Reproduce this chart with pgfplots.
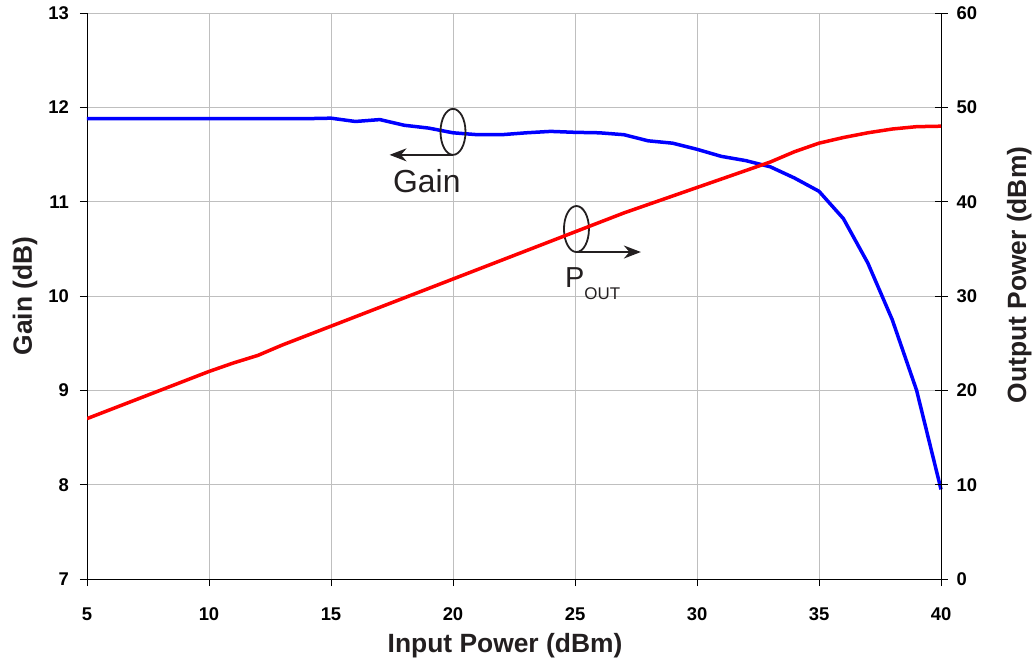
\documentclass[border=0pt]{standalone}
\usepackage{fontspec}
\setmainfont{Liberation Sans}
\usepackage{pgfplots}
\pgfplotsset{compat=1.18}
\usetikzlibrary{arrows.meta}
\definecolor{ink}{HTML}{231F20}

% gain (dB) vs input power (dBm)
\pgfplotstableread{
pin gain
5 11.88
6 11.88
7 11.88
8 11.88
9 11.88
10 11.88
11 11.88
12 11.88
13 11.88
14 11.88
15 11.885
16 11.85
17 11.87
18 11.81
19 11.78
20 11.73
21 11.71
22 11.71
23 11.73
24 11.745
25 11.735
26 11.73
27 11.71
28 11.645
29 11.62
30 11.555
31 11.48
32 11.435
33 11.37
34 11.25
35 11.11
36 10.82
37 10.35
38 9.75
39 9.0
40 7.95
}\gaintable

% output power (dBm) vs input power (dBm)
\pgfplotstableread{
pin pout
5 17.0
6 18.0
7 19.0
8 20.0
9 21.0
10 22.0
11 22.9
12 23.7
13 24.8
14 25.8
15 26.8
16 27.8
17 28.8
18 29.8
19 30.8
20 31.8
21 32.8
22 33.8
23 34.8
24 35.8
25 36.8
26 37.8
27 38.8
28 39.7
29 40.6
30 41.5
31 42.4
32 43.3
33 44.2
34 45.3
35 46.2
36 46.8
37 47.3
38 47.7
39 47.95
40 48.0
}\pouttable

\begin{document}
\begin{tikzpicture}
\pgfplotsset{
  every tick label/.append style={font=\fontsize{18.5}{18.5}\selectfont\bfseries},
  every axis label/.append style={font=\fontsize{26.5}{26.5}\selectfont\bfseries, text=ink},
}
\begin{axis}[
  scale only axis, width=854bp, height=566bp,
  xmin=5, xmax=40, ymin=7, ymax=13,
  xtick={5,10,...,40}, ytick={7,8,...,13},
  axis x line=bottom, axis y line=left,
  axis line style={-, black, line width=0.9bp},
  tick style={black, line width=0.9bp},
  tick align=outside, major tick length=7bp,
  grid=major, grid style={gray!50, line width=0.7bp},
  /pgf/number format/assume math mode=true,
  yticklabel style={xshift=-7.6bp},
  xticklabel style={yshift=-18bp},
  xlabel={Input Power (dBm)},
  xlabel style={at={(axis description cs:0.5,0)}, anchor=base, yshift=-73bp, xshift=-9bp},
  ylabel={Gain (dB)},
  % the label is turned by 90 degrees: its own y points left
  ylabel style={at={(axis description cs:0,0.5)}, anchor=base, yshift=55bp},
  clip=false,
]
\addplot[blue, line width=3.5bp, no markers] table[x=pin, y=gain] {\gaintable};
% annotations
\draw[ink, line width=1.8bp] (axis cs:20,11.74) ellipse [x radius=12.5bp, y radius=23bp];
\draw[ink, line width=1.8bp, -{Stealth[length=17bp, width=13bp]}]
  ([yshift=-23bp]axis cs:20,11.74) -- ([yshift=-23bp]axis cs:17.4,11.74);
\node[anchor=base west, inner sep=0, text=ink] at (axis cs:17.54,11.092)
  {\fontsize{32}{32}\selectfont Gain};
\draw[ink, line width=1.8bp] (axis cs:25.06,10.71) ellipse [x radius=12.5bp, y radius=23bp];
\draw[ink, line width=1.8bp, -{Stealth[length=17bp, width=13bp]}]
  ([yshift=-23bp]axis cs:25.06,10.71) -- ([yshift=-23bp]axis cs:27.7,10.71);
\node[anchor=base west, inner sep=0, text=ink] at (axis cs:24.59,10.095)
  {\fontsize{29}{29}\selectfont P\raisebox{-12bp}{\fontsize{17}{17}\selectfont OUT}};
\end{axis}
\begin{axis}[
  scale only axis, width=854bp, height=566bp,
  xmin=5, xmax=40, ymin=0, ymax=60,
  ytick={0,10,...,60},
  axis x line=none, axis y line=right,
  axis line style={-, black, line width=0.9bp},
  tick style={black, line width=0.9bp},
  tick align=center, major tick length=13bp,
  /pgf/number format/assume math mode=true,
  yticklabel style={xshift=5.6bp},
  ylabel={Output Power (dBm)},
  ylabel style={at={(axis description cs:1,0.5)}, anchor=base, yshift=-85bp, xshift=21bp},
]
\addplot[red, line width=3.5bp, no markers] table[x=pin, y=pout] {\pouttable};
\end{axis}
\pgfresetboundingbox
\path[use as bounding box] (-87bp,-80bp) rectangle (945bp,579bp);
\end{tikzpicture}
\end{document}
